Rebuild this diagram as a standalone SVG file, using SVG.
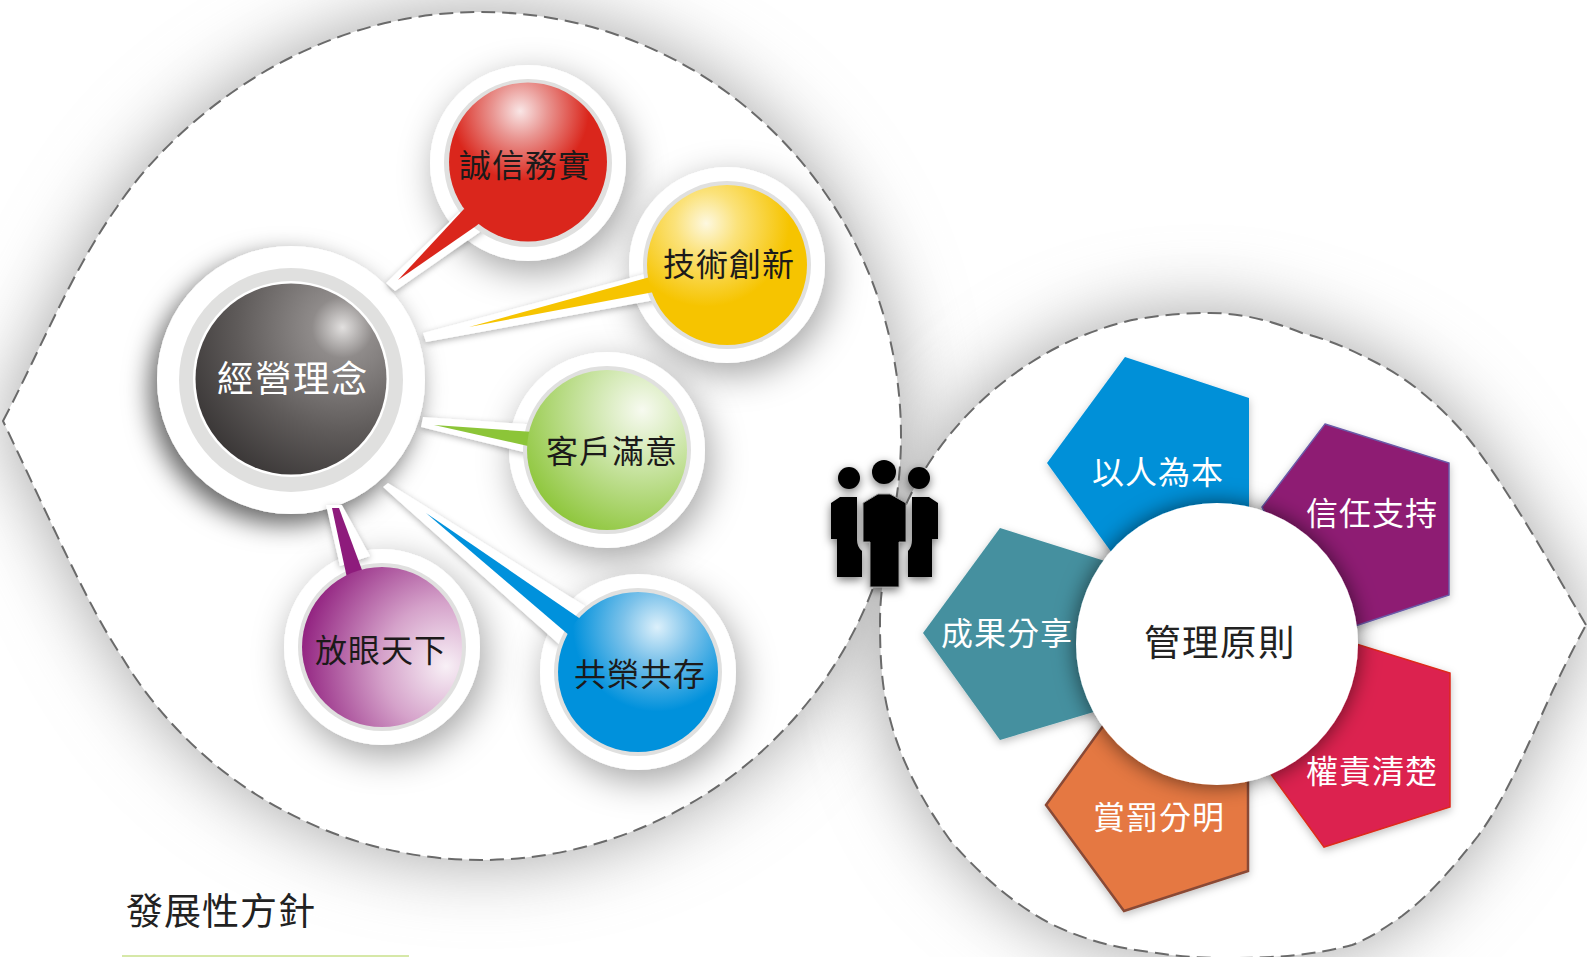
<svg xmlns="http://www.w3.org/2000/svg" width="1587" height="957" viewBox="0 0 1587 957">
<style>
text{font-family:"Noto Sans CJK TC","Noto Sans CJK SC",sans-serif;text-anchor:middle}
.t{font-size:32px;letter-spacing:1px;fill:#1c1a1a}
.w{font-size:32px;letter-spacing:1px;fill:#fff}
.b{font-size:36.500px;letter-spacing:1.500px}
.disc{fill:#fff;filter:url(#sh)}
.ring{fill:#e0e0df}
.blob{fill:#fff}
.shad{fill:#a2a2a2;filter:url(#big)}
.dash{fill:none;stroke:#6a6a6a;stroke-width:2;stroke-dasharray:14 7}
.tw{fill:#fff;filter:url(#ts)}
.pent{filter:url(#ps)}
</style>
<defs>
<filter id="big" x="-25%" y="-25%" width="150%" height="150%"><feGaussianBlur stdDeviation="38"/></filter>
<filter id="sh" x="-50%" y="-50%" width="200%" height="200%"><feDropShadow dx="5" dy="11" stdDeviation="18" flood-color="#000" flood-opacity=".36"/></filter>
<filter id="shc" x="-40%" y="-40%" width="180%" height="180%"><feDropShadow dx="-7" dy="10" stdDeviation="13" flood-color="#000" flood-opacity=".62"/></filter>
<filter id="ts" x="-30%" y="-30%" width="160%" height="160%"><feDropShadow dx="0" dy="2" stdDeviation="3" flood-color="#000" flood-opacity=".3"/></filter>
<filter id="ps" x="-20%" y="-20%" width="140%" height="140%"><feDropShadow dx="0" dy="3" stdDeviation="4" flood-color="#000" flood-opacity=".25"/></filter>
<filter id="cs" x="-20%" y="-20%" width="140%" height="140%"><feDropShadow dx="0" dy="0" stdDeviation="11" flood-color="#000" flood-opacity=".6"/></filter>
<filter id="ic" x="-30%" y="-30%" width="160%" height="160%"><feDropShadow dx="0" dy="3" stdDeviation="5" flood-color="#000" flood-opacity=".55"/></filter>
<radialGradient id="gR" cx=".45" cy=".18" r=".58"><stop offset="0" stop-color="#f9e6e6"/><stop offset=".3" stop-color="#e99591"/><stop offset=".75" stop-color="#da261c"/><stop offset="1" stop-color="#da261c"/></radialGradient>
<radialGradient id="gY" cx=".37" cy=".24" r=".65"><stop offset="0" stop-color="#fdf8e0"/><stop offset=".3" stop-color="#fbe27a"/><stop offset=".8" stop-color="#f6c400"/></radialGradient>
<radialGradient id="gG" cx=".72" cy=".25" r=".95"><stop offset="0" stop-color="#f7faf0"/><stop offset=".35" stop-color="#cde6aa"/><stop offset=".9" stop-color="#8cc538"/></radialGradient>
<radialGradient id="gP" cx=".9" cy=".62" r="1"><stop offset="0" stop-color="#f8f0f6"/><stop offset=".4" stop-color="#d5a2ca"/><stop offset=".95" stop-color="#8e1b7c"/></radialGradient>
<radialGradient id="gB" cx=".62" cy=".22" r=".62"><stop offset="0" stop-color="#dcf0fb"/><stop offset=".35" stop-color="#7cc2ea"/><stop offset=".85" stop-color="#0091dc"/></radialGradient>
<radialGradient id="gK" cx=".77" cy=".23" r="1"><stop offset="0" stop-color="#e2e0df"/><stop offset=".16" stop-color="#8f8b8a"/><stop offset=".55" stop-color="#5f5b5a"/><stop offset="1" stop-color="#2e2b2b"/></radialGradient>
<path id="L" d="M3 421C38 355 72 270 117 207C170 128 300 12 481 12A420 424 0 0 1 901 436A420 424 0 0 1 481 860A420 424 0 0 1 122 657C90 610 50 520 3 421Z"/>
<path id="R" d="M1586 625C1565 590 1510 490 1468 438C1440 405 1410 380 1377 363C1352 350 1330 340 1302 333C1270 320 1240 313 1210 313C1170 313 1130 318 1101 329C990 365 880 480 880 622C880 660 882 690 890 719C902 765 925 805 950 840C980 875 1015 905 1051 924C1085 940 1115 948 1151 952C1180 957 1205 958 1230 958C1275 958 1315 955 1352 945C1370 938 1385 928 1402 916C1430 895 1455 865 1478 836C1505 800 1530 740 1553 690C1565 665 1575 645 1586 625Z"/>
</defs>
<rect width="1587" height="957" fill="#fff"/>
<g id="backgrounds">
<use href="#L" class="shad"/>
<use href="#R" class="shad"/>
<use href="#L" class="blob"/>
<use href="#R" class="blob"/>
<use href="#L" class="dash"/>
<use href="#R" class="dash"/>
</g>
<g id="discs">
<circle cx="528" cy="163" r="98" class="disc"/>
<circle cx="727" cy="265" r="98" class="disc"/>
<circle cx="607" cy="450" r="98" class="disc"/>
<circle cx="382" cy="647" r="98" class="disc"/>
<circle cx="638" cy="672" r="98" class="disc"/>
<circle cx="291" cy="380" r="134" fill="#fff" filter="url(#shc)"/>
</g>
<g id="connectors">
<polygon class="tw" points="467,205 386,283 395,291 490,225"/>
<polygon class="tw" points="660,270 423,333 426,342 660,299"/>
<polygon class="tw" points="540,425 423,417 421,427 540,456"/>
<polygon class="tw" points="326,505 342,505 370,556 340,566"/>
<polygon class="tw" points="388,483 383,487 560,645 585,606"/>
</g>
<g id="rings">
<circle cx="528" cy="163" r="84" class="ring"/>
<circle cx="727" cy="265" r="84" class="ring"/>
<circle cx="607" cy="450" r="84" class="ring"/>
<circle cx="382" cy="647" r="84" class="ring"/>
<circle cx="638" cy="672" r="84" class="ring"/>
<circle cx="291" cy="380" r="112" class="ring"/>
</g>
<g id="connectors-fill">
<polygon fill="#da261c" points="464,209 398,280 476,226 490,215"/>
<polygon fill="#f6c400" points="650,277 469,327 654,292"/>
<polygon fill="#8cc538" points="534,432 434,425 528,446"/>
<polygon fill="#8e1b7c" points="332,508 339,508 362,570 347,578"/>
<polygon fill="#0091dc" points="426,513 582,620 570,636"/>
</g>
<g id="node-red"><ellipse cx="528" cy="162" rx="79" ry="79.500" fill="url(#gR)"/><text x="525" y="177" class="t">誠信務實</text></g>
<g id="node-yellow"><circle cx="727" cy="265" r="80" fill="url(#gY)"/><text x="729" y="276" class="t">技術創新</text></g>
<g id="node-green"><circle cx="607" cy="450" r="80" fill="url(#gG)"/><text x="612" y="463" class="t">客戶滿意</text></g>
<g id="node-purple"><circle cx="382" cy="647" r="80" fill="url(#gP)"/><text x="381" y="662" class="t">放眼天下</text></g>
<g id="node-blue"><circle cx="638" cy="672" r="80" fill="url(#gB)"/><text x="640" y="686" class="t">共榮共存</text></g>
<g id="node-central"><circle cx="291" cy="379" r="98" fill="#fff"/><circle cx="291" cy="379" r="95.500" fill="url(#gK)"/><text x="293" y="392" class="w b">經營理念</text></g>
<g id="node-title"><text x="221" y="925" font-size="37" letter-spacing="1" fill="#222">發展性方針</text><rect x="122" y="955" width="287" height="2" fill="#d6e8a8"/></g>
<g id="node-rule1" class="pent"><polygon fill="#0090d8" points="1125,357 1249,398 1249,530 1125,571 1047,463"/></g>
<g id="node-rule2" class="pent"><polygon fill="#8e1b73" stroke="#6a5aa8" stroke-width="1.500" points="1325,424 1449,463 1449,595 1325,636 1262,507"/></g>
<g id="node-rule3" class="pent"><polygon fill="#dc2250" stroke="#dd2a1a" stroke-width="1.500" points="1324,634 1450,673 1450,807 1324,847 1262,762"/></g>
<g id="node-rule4" class="pent"><polygon fill="#e57843" stroke="#8a4a36" stroke-width="2.500" points="1046,805 1124,697 1248,740 1248,871 1124,911"/></g>
<g id="node-rule5" class="pent"><polygon fill="#44909f" points="1000,528 1124,567 1124,703 1000,740 923,633"/></g>
<g id="node-center"><circle cx="1217" cy="644" r="141" fill="#fff" filter="url(#cs)"/><text x="1220" y="656" font-size="36.500" letter-spacing="1.500" fill="#222">管理原則</text></g>
<g id="rule-labels">
<text x="1158" y="484" class="w">以人為本</text>
<text x="1372" y="525" class="w">信任支持</text>
<text x="1007" y="645" class="w">成果分享</text>
<text x="1372" y="783" class="w">權責清楚</text>
<text x="1159" y="829" class="w">賞罰分明</text>
</g>
<g id="people" filter="url(#ic)" fill="#000">
<circle cx="849" cy="478" r="11"/><circle cx="919" cy="478" r="11"/>
<path d="M831 503L840 497H857V540Q857 547 862 551V577H837V539H831Z"/>
<path d="M938 503L929 497H912V540Q912 547 908 551V577H932V539H938Z"/>
<circle cx="884" cy="472" r="12"/>
<path d="M863 503L878 494H890L906 503V542H899V587H870V542H863Z" stroke="#999" stroke-width="1"/>
</g>
</svg>
